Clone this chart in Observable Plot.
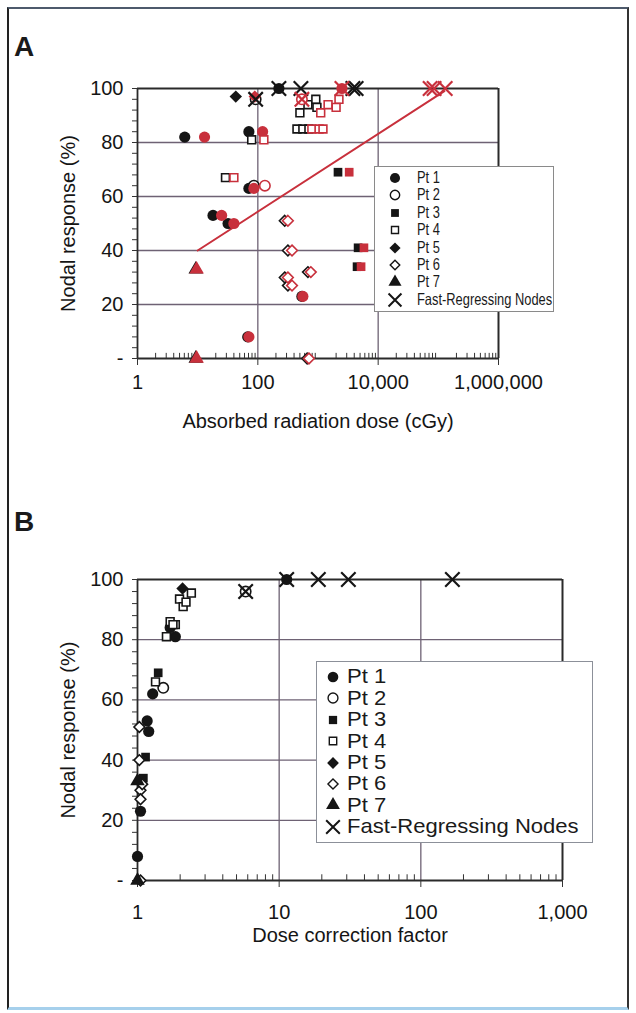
<!DOCTYPE html>
<html><head><meta charset="utf-8">
<script src="https://cdn.jsdelivr.net/npm/d3@7"></script>
<script src="https://cdn.jsdelivr.net/npm/@observablehq/plot@0.6"></script>
<style>
html,body{margin:0;padding:0;background:#fff;}
body{width:636px;height:1013px;position:relative;overflow:hidden;font-family:"Liberation Sans",Arial,sans-serif;color:#1a1a1a;}
#frame{position:absolute;left:7px;top:7px;width:622px;height:1003px;box-sizing:border-box;border-left:2px solid #222;border-right:2px solid #333;border-top:2px solid #4d5a6c;border-bottom:3px solid #a6d0ec;}
.panel{position:absolute;left:0;}
.tag{position:absolute;font-weight:bold;font-size:28px;line-height:1;}
.legend{position:absolute;background:#fff;box-sizing:border-box;}
.legend .row{position:absolute;left:0;white-space:nowrap;line-height:1;transform-origin:0 50%;}
.legend svg{position:absolute;overflow:visible;}
</style></head><body>
<div id="frame"></div>
<div id="panelA" class="panel" style="top:0"></div>
<div id="panelB" class="panel" style="top:480px"></div>
<div class="tag" style="left:14px;top:33px">A</div>
<div class="tag" style="left:14px;top:508px">B</div>
<div id="legA" class="legend" style="left:374px;top:166px;width:180px;height:146px;border:1.5px solid #8a8a8a;"></div>
<div id="legB" class="legend" style="left:316px;top:661px;width:277px;height:182px;border:1.5px solid #8c9099;"></div>
<script>
// ---------- data ----------
const legendLabels = ["Pt 1","Pt 2","Pt 3","Pt 4","Pt 5","Pt 6","Pt 7","Fast-Regressing Nodes"];
const yTicks = [0,20,40,60,80,100];
const xTicksA = [1,100,10000,1000000];
const xTicksB = [1,10,100,1000];

// Panel A: one entry per node (0 = node not tied to a patient symbol)
const aPatient = [1,1,1,1,1,1,1,1, 2,2, 3,3,3, 4,4,4,4,4,4,4,4,4, 5, 6,6,6,6,6,6, 7,7, 0,0,0];
const aDose    = [6.1,71,71,18,32,540,68,224, 86,92, 2150,4640,4460, 79,29,447,560,706,500,680,920,960, 43, 280,316,280,316,680,660, 9.3,9.3, 520,3800,4300];
const aCorrected = [13,120,86,25,40,560,71,2500, 131,540, 3300,5800,5200, 126,40,790,1040,1210,1110,1470,2230,2000, 89, 316,370,316,370,760,707, 9.6,9.6, 85000,73000,130000];
const aResponse = [82,84,63,53,50,23,8,100, 64,96, 69,41,34, 81,67,85,85,85,91,94,96,93, 97, 51,40,30,27,32,0, 33,0, 100,100,100];
const aFast    = [0,0,0,0,0,0,0,1, 0,1, 0,0,0, 0,0,0,0,0,0,0,0,0, 0, 0,0,0,0,0,0, 0,0, 1,1,1];
// regression line of response on corrected dose
const fitDose = [10, 126000];
const fitResponse = [40, 99];

// Panel B
const bPatient = [1,1,1,1,1,1,1,1, 2,2, 3,3,3, 4,4,4,4,4,4,4,4,4, 5, 6,6,6,6,6,6, 7,7, 0,0,0];
const bFactor  = [1.0,1.05,1.17,1.2,1.28,1.85,1.7,11.3, 1.52,5.8, 1.4,1.14,1.1, 1.6,1.34,1.7,1.85,1.78,1.98,2.1,2.4,2.2, 2.08, 1.03,1.03,1.05,1.05,1.08,1.05, 1.0,1.0, 18.9,30.8,167];
const bResponse = [8,23,53,49.5,62,81,84,100, 64,96, 69,41,34, 81,66,86,85,85,93.5,91,95.5,92.5, 97, 51,40,30,27,32,0, 33,0, 100,100,100];
const bFast    = [0,0,0,0,0,0,0,1, 0,1, 0,0,0, 0,0,0,0,0,0,0,0,0, 0, 0,0,0,0,0,0, 0,0, 1,1,1];

// ---------- styling ----------
const RED = "#c8303c", INK = "#151515", GRID = "#6e6274";
const FS = 20;
const symbolOf = {1:"circle",2:"circle",3:"square",4:"square",5:"diamond2",6:"diamond2",7:"triangle"};
const openOf = {1:false,2:true,3:false,4:true,5:false,6:true,7:false};
const rOf = {1:5.6,2:5.2,3:4.9,4:4.4,5:5.6,6:4.8,7:5.4};

const rowsA = aPatient.map((p,i)=>({p, dose:aDose[i], corr:aCorrected[i], resp:aResponse[i], fast:aFast[i]}));
const rowsB = bPatient.map((p,i)=>({p, fac:bFactor[i], resp:bResponse[i], fast:bFast[i]}));
const fitRows = fitDose.map((d,i)=>({d, r:fitResponse[i]}));

function shapeMarks(rows, xKey, color) {
  const out = [];
  for (let p = 1; p <= 7; p++) {
    const sub = rows.filter(d => d.p === p);
    if (!sub.length) continue;
    out.push(Plot.dot(sub, {x:xKey, y:"resp", symbol:symbolOf[p], r:rOf[p],
      fill: openOf[p] ? "white" : color, stroke: openOf[p] ? color : "none", strokeWidth: openOf[p] ? 1.6 : 0}));
  }
  return out;
}
function fastMarks(rows, xKey, color) {
  return Plot.dot(rows.filter(d => d.fast), {x:xKey, y:"resp", symbol:"times", r:6.6, stroke:color, strokeWidth:2.2});
}
function minorLog(domain) {
  return d3.scaleLog().domain(domain).ticks().filter(v => Math.abs(Math.log10(v) - Math.round(Math.log10(v))) > 1e-9);
}
const fmt0 = d => d === 0 ? "-" : d3.format(",")(d);

function commonMarks(xDomain, xTicks, gridX, xLabel, xLabelDy, tickPad) {
  const right = xDomain[1];
  return [
    Plot.ruleY([20,40,60,80], {stroke:GRID, strokeWidth:1.3}),
    Plot.ruleX(gridX, {stroke:GRID, strokeWidth:1.3}),
    Plot.ruleY([100], {stroke:"#2a2a2a", strokeWidth:2}),
    Plot.ruleX([right], {stroke:"#2a2a2a", strokeWidth:2}),
    Plot.ruleY([0], {stroke:"#2a2a2a", strokeWidth:1.8}),
    Plot.ruleX([xDomain[0]], {stroke:"#2a2a2a", strokeWidth:1.8}),
    Plot.ruleX(minorLog(xDomain), {y1:0, y2:1.9, stroke:"#333", strokeWidth:1}),
    Plot.axisY({ticks:d3.range(0,101,4), tickSize:5, tickFormat:()=>"", label:null, stroke:"#333"}),
    Plot.axisY({ticks:yTicks, tickSize:0, tickPadding:14, tickFormat:fmt0, label:null, fontSize:FS, fill:INK}),
    Plot.axisX({ticks:xTicks, tickSize:7, tickPadding:tickPad, tickFormat:fmt0, label:null, fontSize:FS, fill:INK, stroke:"#333"}),
    Plot.text([xLabel], {text:d=>d, frameAnchor:"bottom", dy:xLabelDy, fontSize:FS, fill:INK}),
    Plot.text(["Nodal response (%)"], {text:d=>d, frameAnchor:"left", textAnchor:"middle", dx:-69, rotate:-90, fontSize:FS, fill:INK})
  ];
}

const style = {fontFamily:"'Liberation Sans', Arial, sans-serif", background:"transparent", overflow:"visible", color:INK};

const chartA = Plot.plot({
  width:636, height:450, marginLeft:137, marginRight:138, marginTop:88, marginBottom:92,
  x:{type:"log", domain:[1,1e6]}, y:{domain:[0,100]}, style,
  marks:[
    ...commonMarks([1,1e6], xTicksA, [100,10000], "Absorbed radiation dose (cGy)", 69, 9),
    Plot.line(fitRows, {x:"d", y:"r", stroke:RED, strokeWidth:2}),
    ...shapeMarks(rowsA, "dose", INK),
    ...shapeMarks(rowsA, "corr", RED),
    fastMarks(rowsA, "dose", INK),
    fastMarks(rowsA, "corr", RED)
  ]
});
document.getElementById("panelA").append(chartA);

const chartB = Plot.plot({
  width:636, height:480, marginLeft:137, marginRight:74, marginTop:99, marginBottom:80,
  x:{type:"log", domain:[1,1000]}, y:{domain:[0,100]}, style,
  marks:[
    ...commonMarks([1,1000], xTicksB, [10,100], "Dose correction factor", 61, 17),
    ...shapeMarks(rowsB, "fac", INK),
    fastMarks(rowsB, "fac", INK)
  ]
});
document.getElementById("panelB").append(chartB);

// ---------- legends ----------
function buildLegend(id, opts) {
  const el = document.getElementById(id);
  legendLabels.forEach((lab, i) => {
    const cy = opts.y0 + i * opts.dy;
    const svg = d3.select(el).append("svg").attr("width", 1).attr("height", 1)
      .style("left", opts.sx + "px").style("top", cy + "px");
    const p = i + 1;
    if (i < 7) {
      const size = Math.PI * (rOf[p] * opts.scale) ** 2;
      const sym = {circle:d3.symbolCircle, square:d3.symbolSquare, diamond2:d3.symbolDiamond2, triangle:d3.symbolTriangle}[symbolOf[p]];
      svg.append("path").attr("d", d3.symbol(sym, size)())
        .attr("fill", openOf[p] ? "white" : INK).attr("stroke", openOf[p] ? INK : "none").attr("stroke-width", 1.4);
    } else {
      svg.append("path").attr("d", d3.symbol(d3.symbolTimes, Math.PI * (6.6*opts.scale) ** 2)())
        .attr("fill", "none").attr("stroke", INK).attr("stroke-width", 2);
    }
    d3.select(el).append("div").attr("class", "row").text(lab)
      .style("left", opts.tx + "px").style("top", (cy - opts.fs * 0.55) + "px").style("font-size", opts.fs + "px")
      .style("transform", `scaleX(${opts.sxText})`);
  });
}
buildLegend("legA", {y0:11, dy:17.4, sx:20, tx:42, fs:16.5, scale:0.9, sxText:0.78});
buildLegend("legB", {y0:15, dy:21.4, sx:16, tx:30, fs:21, scale:0.95, sxText:1.05});
</script>
</body></html>
